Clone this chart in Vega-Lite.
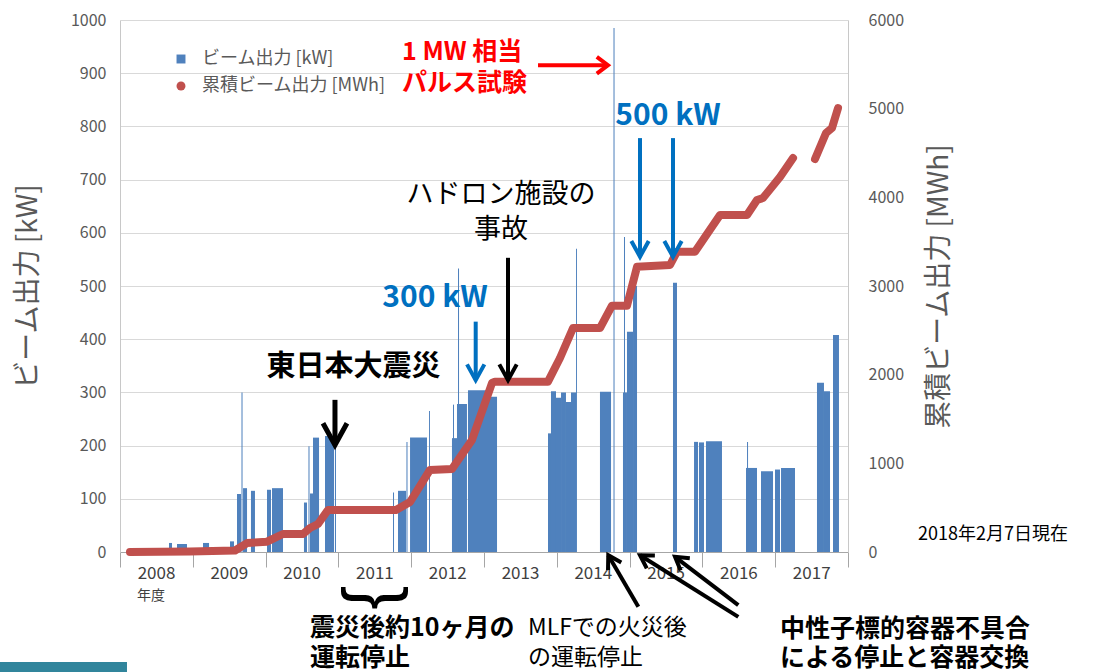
{
  "$schema": "https://vega.github.io/schema/vega-lite/v6.json",
  "width": 728,
  "height": 532,
  "autosize": "none",
  "padding": {"left": 120, "top": 20, "right": 258, "bottom": 120},
  "background": "white",
  "config": {"font": "Noto Sans CJK JP", "view": {"stroke": null}},
  "datasets": {
    "bars": [
      {"s": 2008.673, "e": 2008.714, "kw": 17},
      {"s": 2008.783, "e": 2008.920, "kw": 15},
      {"s": 2009.140, "e": 2009.223, "kw": 17},
      {"s": 2009.511, "e": 2009.566, "kw": 20},
      {"s": 2009.607, "e": 2009.662, "kw": 109},
      {"s": 2009.669, "e": 2009.683, "kw": 300},
      {"s": 2009.690, "e": 2009.745, "kw": 120},
      {"s": 2009.799, "e": 2009.854, "kw": 115},
      {"s": 2010.019, "e": 2010.074, "kw": 117},
      {"s": 2010.088, "e": 2010.239, "kw": 120},
      {"s": 2010.527, "e": 2010.569, "kw": 93},
      {"s": 2010.589, "e": 2010.603, "kw": 199},
      {"s": 2010.610, "e": 2010.651, "kw": 110},
      {"s": 2010.651, "e": 2010.734, "kw": 215},
      {"s": 2010.816, "e": 2010.940, "kw": 218},
      {"s": 2010.953, "e": 2010.967, "kw": 205},
      {"s": 2011.750, "e": 2011.764, "kw": 112},
      {"s": 2011.819, "e": 2011.929, "kw": 115},
      {"s": 2011.935, "e": 2011.949, "kw": 207},
      {"s": 2011.984, "e": 2012.217, "kw": 215},
      {"s": 2012.245, "e": 2012.258, "kw": 265},
      {"s": 2012.560, "e": 2012.629, "kw": 214},
      {"s": 2012.574, "e": 2012.588, "kw": 277},
      {"s": 2012.629, "e": 2012.766, "kw": 278},
      {"s": 2012.643, "e": 2012.657, "kw": 533},
      {"s": 2012.780, "e": 2013.055, "kw": 304},
      {"s": 2013.055, "e": 2013.179, "kw": 292},
      {"s": 2013.879, "e": 2013.920, "kw": 223},
      {"s": 2013.920, "e": 2013.989, "kw": 302},
      {"s": 2013.989, "e": 2014.058, "kw": 290},
      {"s": 2014.058, "e": 2014.126, "kw": 300},
      {"s": 2014.126, "e": 2014.195, "kw": 282},
      {"s": 2014.195, "e": 2014.264, "kw": 300},
      {"s": 2014.264, "e": 2014.277, "kw": 570},
      {"s": 2014.593, "e": 2014.745, "kw": 301},
      {"s": 2014.779, "e": 2014.793, "kw": 985},
      {"s": 2014.909, "e": 2014.964, "kw": 300},
      {"s": 2014.923, "e": 2014.937, "kw": 592},
      {"s": 2014.964, "e": 2015.047, "kw": 414},
      {"s": 2015.047, "e": 2015.102, "kw": 500},
      {"s": 2015.596, "e": 2015.651, "kw": 506},
      {"s": 2015.885, "e": 2015.940, "kw": 207},
      {"s": 2015.953, "e": 2016.022, "kw": 206},
      {"s": 2016.049, "e": 2016.269, "kw": 208},
      {"s": 2016.599, "e": 2016.750, "kw": 158},
      {"s": 2016.613, "e": 2016.627, "kw": 207},
      {"s": 2016.805, "e": 2016.970, "kw": 152},
      {"s": 2016.997, "e": 2017.066, "kw": 155},
      {"s": 2017.080, "e": 2017.272, "kw": 158},
      {"s": 2017.574, "e": 2017.670, "kw": 318},
      {"s": 2017.670, "e": 2017.753, "kw": 302},
      {"s": 2017.794, "e": 2017.876, "kw": 408}
    ],
    "cum": [
      {"t": 2008.137, "mwh": 0, "seg": 1},
      {"t": 2008.962, "mwh": 6, "seg": 1},
      {"t": 2009.580, "mwh": 17, "seg": 1},
      {"t": 2009.745, "mwh": 101, "seg": 1},
      {"t": 2010.019, "mwh": 116, "seg": 1},
      {"t": 2010.239, "mwh": 203, "seg": 1},
      {"t": 2010.514, "mwh": 203, "seg": 1},
      {"t": 2010.610, "mwh": 271, "seg": 1},
      {"t": 2010.720, "mwh": 316, "seg": 1},
      {"t": 2010.857, "mwh": 474, "seg": 1},
      {"t": 2011.791, "mwh": 474, "seg": 1},
      {"t": 2011.984, "mwh": 564, "seg": 1},
      {"t": 2012.258, "mwh": 925, "seg": 1},
      {"t": 2012.560, "mwh": 936, "seg": 1},
      {"t": 2012.835, "mwh": 1263, "seg": 1},
      {"t": 2013.110, "mwh": 1906, "seg": 1},
      {"t": 2013.151, "mwh": 1921, "seg": 1},
      {"t": 2013.879, "mwh": 1921, "seg": 1},
      {"t": 2014.044, "mwh": 2188, "seg": 1},
      {"t": 2014.223, "mwh": 2526, "seg": 1},
      {"t": 2014.593, "mwh": 2526, "seg": 1},
      {"t": 2014.758, "mwh": 2778, "seg": 1},
      {"t": 2014.964, "mwh": 2778, "seg": 1},
      {"t": 2015.102, "mwh": 3218, "seg": 1},
      {"t": 2015.555, "mwh": 3237, "seg": 1},
      {"t": 2015.651, "mwh": 3387, "seg": 1},
      {"t": 2015.898, "mwh": 3387, "seg": 1},
      {"t": 2016.242, "mwh": 3801, "seg": 1},
      {"t": 2016.613, "mwh": 3801, "seg": 1},
      {"t": 2016.750, "mwh": 3970, "seg": 1},
      {"t": 2016.832, "mwh": 3992, "seg": 1},
      {"t": 2017.066, "mwh": 4229, "seg": 1},
      {"t": 2017.245, "mwh": 4443, "seg": 1},
      {"t": 2017.547, "mwh": 4432, "seg": 2},
      {"t": 2017.698, "mwh": 4725, "seg": 2},
      {"t": 2017.780, "mwh": 4782, "seg": 2},
      {"t": 2017.863, "mwh": 5007, "seg": 2}
    ],
    "txt": [
      {"g": "red", "x": 2011.874, "y": 940, "txt": "1 MW 相当"},
      {"g": "red", "x": 2011.874, "y": 881, "txt": "パルス試験"},
      {"g": "blue", "x": 2015.527, "y": 820, "txt": "500 kW"},
      {"g": "blue", "x": 2012.327, "y": 477, "txt": "300 kW"},
      {"g": "kn", "x": 2013.234, "y": 671, "txt": "ハドロン施設の"},
      {"g": "kn", "x": 2013.234, "y": 605, "txt": "事故"},
      {"g": "kb", "x": 2011.207, "y": 348, "txt": "東日本大震災"},
      {"g": "bb", "x": 2010.610, "y": -143, "txt": "震災後約10ヶ月の"},
      {"g": "bb", "x": 2010.610, "y": -199, "txt": "運転停止"},
      {"g": "bb", "x": 2017.066, "y": -145, "txt": "中性子標的容器不具合"},
      {"g": "bb", "x": 2017.066, "y": -199, "txt": "による停止と容器交換"},
      {"g": "bn", "x": 2013.604, "y": -143, "txt": "MLFでの火災後"},
      {"g": "bn", "x": 2013.604, "y": -199, "txt": "の運転停止"},
      {"g": "s14", "x": 2008.426, "y": -83, "txt": "年度"},
      {"g": "s18", "x": 2018.962, "y": 32, "txt": "2018年2月7日現在"},
      {"g": "brace", "x": 2011.544, "y": -86, "txt": "}"}
    ],
    "arr": [
      {"g": "r", "x": 2013.742, "y": 915, "x2": 2014.703, "y2": 915},
      {"g": "b", "x": 2015.143, "y": 778, "x2": 2015.143, "y2": 555},
      {"g": "b", "x": 2015.596, "y": 778, "x2": 2015.596, "y2": 555},
      {"g": "b", "x": 2012.886, "y": 433, "x2": 2012.886, "y2": 323},
      {"g": "k", "x": 2013.330, "y": 553, "x2": 2013.330, "y2": 323},
      {"g": "kt", "x": 2010.953, "y": 286, "x2": 2010.953, "y2": 201},
      {"g": "sA", "x": 2015.120, "y": -103, "x2": 2014.707, "y2": -6},
      {"g": "sB", "x": 2016.493, "y": -122, "x2": 2015.143, "y2": -6},
      {"g": "sC", "x": 2016.493, "y": -100, "x2": 2015.624, "y2": -9}
    ],
    "deco": [
      {"x": 2006.35, "x2": 2008.096, "y": -206.8, "y2": -226}
    ]
  },
  "layer": [
    {
      "data": {"name": "bars"},
      "mark": {"type": "rect"},
      "encoding": {
        "x": {
          "field": "s", "type": "quantitative", "title": null,
          "scale": {"domain": [2008, 2018], "nice": false, "zero": false},
          "axis": {
            "values": [2008, 2009, 2010, 2011, 2012, 2013, 2014, 2015, 2016, 2017, 2018],
            "labelExpr": "datum.value < 2018 ? format(datum.value, 'd') : ''",
            "labelOffset": 36, "labelFlush": false, "labelOverlap": false,
            "ticks": true, "tickSize": 15, "tickColor": "#a6a6a6", "domain": true, "domainColor": "#a6a6a6",
            "labels": true, "labelFontSize": 17, "labelColor": "#404040", "labelPadding": -2,
            "grid": false, "title": null
          }
        },
        "x2": {"field": "e"},
        "y": {
          "field": "kw", "type": "quantitative",
          "scale": {"domain": [0, 1000], "nice": false},
          "axis": {
            "orient": "left",
            "values": [0, 100, 200, 300, 400, 500, 600, 700, 800, 900, 1000],
            "format": "d",
            "grid": true, "gridColor": "#d9d9d9", "ticks": false,
            "domainColor": "#c8c8c8",
            "labelFontSize": 16, "labelColor": "#595959", "labelPadding": 14,
            "title": "ビーム出力 [kW]", "titleFontSize": 28, "titleFontWeight": "normal",
            "titleColor": "#595959", "titlePadding": 28
          }
        },
        "y2": {"datum": 0},
        "color": {
          "datum": "ビーム出力 [kW]",
          "scale": {"domain": ["ビーム出力 [kW]", "累積ビーム出力 [MWh]"], "range": ["#4F81BD", "#C0504D"]},
          "legend": {
            "orient": "none", "legendX": 52, "legendY": 30, "title": null,
            "labelFontSize": 18, "labelColor": "#595959", "symbolSize": 80, "labelLimit": 400,
            "rowPadding": 9, "labelOffset": 12, "symbolType": "square",
            "encode": {"symbols": {"update": {"shape": {"signal": "datum.value === '累積ビーム出力 [MWh]' ? 'circle' : 'square'"}}}}
          }
        }
      }
    },
    {
      "data": {"name": "cum"},
      "mark": {"type": "line", "color": "#C0504D", "strokeWidth": 8, "strokeCap": "round", "strokeJoin": "round"},
      "encoding": {
        "x": {"field": "t", "type": "quantitative", "title": null, "scale": {"domain": [2008, 2018], "nice": false, "zero": false}},
        "y": {
          "field": "mwh", "type": "quantitative",
          "scale": {"domain": [0, 6000], "nice": false},
          "axis": {
            "orient": "right",
            "values": [0, 1000, 2000, 3000, 4000, 5000, 6000],
            "format": "d",
            "grid": false, "ticks": false, "domainColor": "#c8c8c8",
            "labelFontSize": 16, "labelColor": "#595959", "labelPadding": 20,
            "title": "累積ビーム出力 [MWh]", "titleFontSize": 28, "titleFontWeight": "normal",
            "titleColor": "#595959", "titleAngle": 270, "titlePadding": 50
          }
        },
        "detail": {"field": "seg"}
      }
    },
    {
      "layer": [
        {
          "data": {"name": "deco"},
          "mark": {"type": "rect", "color": "#31859C"},
          "encoding": {
            "x": {"field": "x", "type": "quantitative", "title": null, "scale": {"domain": [2008, 2018], "nice": false, "zero": false}},
            "x2": {"field": "x2"},
            "y": {"field": "y", "type": "quantitative", "scale": {"domain": [0, 1000], "nice": false, "zero": false}, "axis": null},
            "y2": {"field": "y2"}
          }
        },
        {
          "data": {"name": "arr"},
          "transform": [{"filter": "datum.g === 'r'"}],
          "mark": {"type": "rule", "color": "#FF0000", "strokeWidth": 4},
          "encoding": {
            "x": {"field": "x", "type": "quantitative", "title": null, "scale": {"domain": [2008, 2018], "nice": false, "zero": false}},
            "x2": {"field": "x2"},
            "y": {"field": "y", "type": "quantitative", "scale": {"domain": [0, 1000], "nice": false, "zero": false}, "axis": null},
            "y2": {"field": "y2"}
          }
        },
        {
          "data": {"name": "arr"},
          "transform": [{"filter": "datum.g === 'b'"}],
          "mark": {"type": "rule", "color": "#0070C0", "strokeWidth": 4},
          "encoding": {
            "x": {"field": "x", "type": "quantitative", "title": null, "scale": {"domain": [2008, 2018], "nice": false, "zero": false}},
            "x2": {"field": "x2"},
            "y": {"field": "y", "type": "quantitative", "scale": {"domain": [0, 1000], "nice": false, "zero": false}, "axis": null},
            "y2": {"field": "y2"}
          }
        },
        {
          "data": {"name": "arr"},
          "transform": [{"filter": "datum.g === 'k' || datum.g === 'sA' || datum.g === 'sB' || datum.g === 'sC'"}],
          "mark": {"type": "rule", "color": "#000000", "strokeWidth": 4},
          "encoding": {
            "x": {"field": "x", "type": "quantitative", "title": null, "scale": {"domain": [2008, 2018], "nice": false, "zero": false}},
            "x2": {"field": "x2"},
            "y": {"field": "y", "type": "quantitative", "scale": {"domain": [0, 1000], "nice": false, "zero": false}, "axis": null},
            "y2": {"field": "y2"}
          }
        },
        {
          "data": {"name": "arr"},
          "transform": [{"filter": "datum.g === 'kt'"}],
          "mark": {"type": "rule", "color": "#000000", "strokeWidth": 5},
          "encoding": {
            "x": {"field": "x", "type": "quantitative", "title": null, "scale": {"domain": [2008, 2018], "nice": false, "zero": false}},
            "x2": {"field": "x2"},
            "y": {"field": "y", "type": "quantitative", "scale": {"domain": [0, 1000], "nice": false, "zero": false}, "axis": null},
            "y2": {"field": "y2"}
          }
        },
        {
          "data": {"name": "arr"},
          "transform": [{"filter": "datum.g === 'r'"}],
          "mark": {"type": "point", "shape": "M-1,-0.75L0,0L-1,0.75", "filled": false, "color": "#FF0000", "strokeWidth": 4, "size": 500, "angle": 0, "opacity": 1},
          "encoding": {
            "x": {"field": "x2", "type": "quantitative", "title": null, "scale": {"domain": [2008, 2018], "nice": false, "zero": false}},
            "y": {"field": "y2", "type": "quantitative", "scale": {"domain": [0, 1000], "nice": false, "zero": false}, "axis": null}
          }
        },
        {
          "data": {"name": "arr"},
          "transform": [{"filter": "datum.g === 'b'"}],
          "mark": {"type": "point", "shape": "M-1,-0.55L0,0L-1,0.55", "filled": false, "color": "#0070C0", "strokeWidth": 4, "size": 1000, "angle": 90, "opacity": 1},
          "encoding": {
            "x": {"field": "x2", "type": "quantitative", "title": null, "scale": {"domain": [2008, 2018], "nice": false, "zero": false}},
            "y": {"field": "y2", "type": "quantitative", "scale": {"domain": [0, 1000], "nice": false, "zero": false}, "axis": null}
          }
        },
        {
          "data": {"name": "arr"},
          "transform": [{"filter": "datum.g === 'k'"}],
          "mark": {"type": "point", "shape": "M-1,-0.55L0,0L-1,0.55", "filled": false, "color": "#000000", "strokeWidth": 4, "size": 1000, "angle": 90, "opacity": 1},
          "encoding": {
            "x": {"field": "x2", "type": "quantitative", "title": null, "scale": {"domain": [2008, 2018], "nice": false, "zero": false}},
            "y": {"field": "y2", "type": "quantitative", "scale": {"domain": [0, 1000], "nice": false, "zero": false}, "axis": null}
          }
        },
        {
          "data": {"name": "arr"},
          "transform": [{"filter": "datum.g === 'kt'"}],
          "mark": {"type": "point", "shape": "M-1,-0.55L0,0L-1,0.55", "filled": false, "color": "#000000", "strokeWidth": 5, "size": 1900, "angle": 90, "opacity": 1},
          "encoding": {
            "x": {"field": "x2", "type": "quantitative", "title": null, "scale": {"domain": [2008, 2018], "nice": false, "zero": false}},
            "y": {"field": "y2", "type": "quantitative", "scale": {"domain": [0, 1000], "nice": false, "zero": false}, "axis": null}
          }
        },
        {
          "data": {"name": "arr"},
          "transform": [{"filter": "datum.g === 'sA'"}],
          "mark": {"type": "point", "shape": "M-1,-0.6L0,0L-1,0.6", "filled": false, "color": "#000000", "strokeWidth": 4, "size": 650, "angle": 240, "opacity": 1},
          "encoding": {
            "x": {"field": "x2", "type": "quantitative", "title": null, "scale": {"domain": [2008, 2018], "nice": false, "zero": false}},
            "y": {"field": "y2", "type": "quantitative", "scale": {"domain": [0, 1000], "nice": false, "zero": false}, "axis": null}
          }
        },
        {
          "data": {"name": "arr"},
          "transform": [{"filter": "datum.g === 'sB'"}],
          "mark": {"type": "point", "shape": "M-1,-0.6L0,0L-1,0.6", "filled": false, "color": "#000000", "strokeWidth": 4, "size": 650, "angle": 212, "opacity": 1},
          "encoding": {
            "x": {"field": "x2", "type": "quantitative", "title": null, "scale": {"domain": [2008, 2018], "nice": false, "zero": false}},
            "y": {"field": "y2", "type": "quantitative", "scale": {"domain": [0, 1000], "nice": false, "zero": false}, "axis": null}
          }
        },
        {
          "data": {"name": "arr"},
          "transform": [{"filter": "datum.g === 'sC'"}],
          "mark": {"type": "point", "shape": "M-1,-0.6L0,0L-1,0.6", "filled": false, "color": "#000000", "strokeWidth": 4, "size": 650, "angle": 217, "opacity": 1},
          "encoding": {
            "x": {"field": "x2", "type": "quantitative", "title": null, "scale": {"domain": [2008, 2018], "nice": false, "zero": false}},
            "y": {"field": "y2", "type": "quantitative", "scale": {"domain": [0, 1000], "nice": false, "zero": false}, "axis": null}
          }
        },
        {
          "data": {"name": "txt"},
          "transform": [{"filter": "datum.g === 'red'"}],
          "mark": {"type": "text", "align": "left", "baseline": "middle", "fontSize": 25, "fontWeight": "bold", "color": "#FF0000"},
          "encoding": {
            "x": {"field": "x", "type": "quantitative", "title": null, "scale": {"domain": [2008, 2018], "nice": false, "zero": false}},
            "y": {"field": "y", "type": "quantitative", "scale": {"domain": [0, 1000], "nice": false, "zero": false}, "axis": null},
            "text": {"field": "txt"}
          }
        },
        {
          "data": {"name": "txt"},
          "transform": [{"filter": "datum.g === 'blue'"}],
          "mark": {"type": "text", "align": "center", "baseline": "middle", "fontSize": 30, "fontWeight": "bold", "color": "#0070C0"},
          "encoding": {
            "x": {"field": "x", "type": "quantitative", "title": null, "scale": {"domain": [2008, 2018], "nice": false, "zero": false}},
            "y": {"field": "y", "type": "quantitative", "scale": {"domain": [0, 1000], "nice": false, "zero": false}, "axis": null},
            "text": {"field": "txt"}
          }
        },
        {
          "data": {"name": "txt"},
          "transform": [{"filter": "datum.g === 'kn'"}],
          "mark": {"type": "text", "align": "center", "baseline": "middle", "fontSize": 27, "fontWeight": "normal", "color": "#000000"},
          "encoding": {
            "x": {"field": "x", "type": "quantitative", "title": null, "scale": {"domain": [2008, 2018], "nice": false, "zero": false}},
            "y": {"field": "y", "type": "quantitative", "scale": {"domain": [0, 1000], "nice": false, "zero": false}, "axis": null},
            "text": {"field": "txt"}
          }
        },
        {
          "data": {"name": "txt"},
          "transform": [{"filter": "datum.g === 'kb'"}],
          "mark": {"type": "text", "align": "center", "baseline": "middle", "fontSize": 29, "fontWeight": "bold", "color": "#000000"},
          "encoding": {
            "x": {"field": "x", "type": "quantitative", "title": null, "scale": {"domain": [2008, 2018], "nice": false, "zero": false}},
            "y": {"field": "y", "type": "quantitative", "scale": {"domain": [0, 1000], "nice": false, "zero": false}, "axis": null},
            "text": {"field": "txt"}
          }
        },
        {
          "data": {"name": "txt"},
          "transform": [{"filter": "datum.g === 'bb'"}],
          "mark": {"type": "text", "align": "left", "baseline": "middle", "fontSize": 25, "fontWeight": "bold", "color": "#000000"},
          "encoding": {
            "x": {"field": "x", "type": "quantitative", "title": null, "scale": {"domain": [2008, 2018], "nice": false, "zero": false}},
            "y": {"field": "y", "type": "quantitative", "scale": {"domain": [0, 1000], "nice": false, "zero": false}, "axis": null},
            "text": {"field": "txt"}
          }
        },
        {
          "data": {"name": "txt"},
          "transform": [{"filter": "datum.g === 'bn'"}],
          "mark": {"type": "text", "align": "left", "baseline": "middle", "fontSize": 23, "fontWeight": "normal", "color": "#000000"},
          "encoding": {
            "x": {"field": "x", "type": "quantitative", "title": null, "scale": {"domain": [2008, 2018], "nice": false, "zero": false}},
            "y": {"field": "y", "type": "quantitative", "scale": {"domain": [0, 1000], "nice": false, "zero": false}, "axis": null},
            "text": {"field": "txt"}
          }
        },
        {
          "data": {"name": "txt"},
          "transform": [{"filter": "datum.g === 's14'"}],
          "mark": {"type": "text", "align": "center", "baseline": "middle", "fontSize": 14, "fontWeight": "normal", "color": "#404040"},
          "encoding": {
            "x": {"field": "x", "type": "quantitative", "title": null, "scale": {"domain": [2008, 2018], "nice": false, "zero": false}},
            "y": {"field": "y", "type": "quantitative", "scale": {"domain": [0, 1000], "nice": false, "zero": false}, "axis": null},
            "text": {"field": "txt"}
          }
        },
        {
          "data": {"name": "txt"},
          "transform": [{"filter": "datum.g === 's18'"}],
          "mark": {"type": "text", "align": "left", "baseline": "middle", "fontSize": 18, "fontWeight": "normal", "color": "#000000"},
          "encoding": {
            "x": {"field": "x", "type": "quantitative", "title": null, "scale": {"domain": [2008, 2018], "nice": false, "zero": false}},
            "y": {"field": "y", "type": "quantitative", "scale": {"domain": [0, 1000], "nice": false, "zero": false}, "axis": null},
            "text": {"field": "txt"}
          }
        },
        {
          "data": {"name": "txt"},
          "transform": [{"filter": "datum.g === 'brace'"}],
          "mark": {"type": "text", "align": "center", "baseline": "middle", "fontSize": 72, "font": "Liberation Sans", "fontWeight": "normal", "color": "#000000", "angle": 90},
          "encoding": {
            "x": {"field": "x", "type": "quantitative", "title": null, "scale": {"domain": [2008, 2018], "nice": false, "zero": false}},
            "y": {"field": "y", "type": "quantitative", "scale": {"domain": [0, 1000], "nice": false, "zero": false}, "axis": null},
            "text": {"field": "txt"}
          }
        }
      ]
    }
  ],
  "resolve": {"scale": {"y": "independent"}, "axis": {"y": "independent"}}
}
